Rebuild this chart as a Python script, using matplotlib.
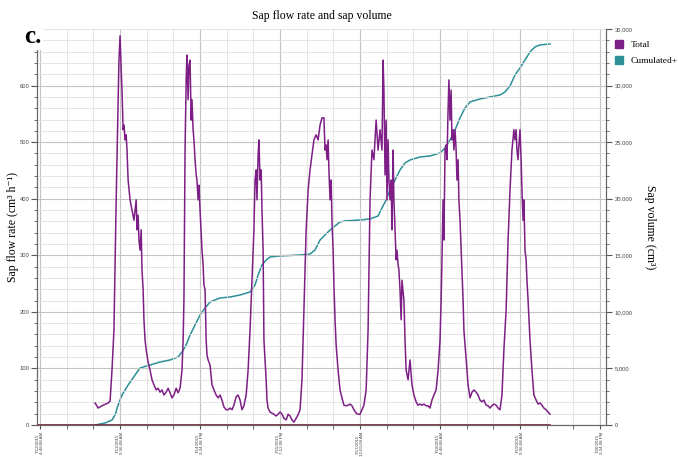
import matplotlib
matplotlib.use("Agg")
import matplotlib.pyplot as plt
from matplotlib.ticker import MultipleLocator, FuncFormatter
from matplotlib.lines import Line2D

# hours since the first logged sample
rate_hours = [0.0, 1.1, 2.9, 4.7, 5.4, 6.1, 6.8, 7.6, 8.3, 8.6, 9.0, 9.4, 9.7, 10.1, 10.4, 10.8,
              11.2, 11.5, 11.9, 12.6, 13.3, 14.0, 14.8, 15.1, 15.5, 15.8, 16.2, 16.6, 16.9, 17.3,
              17.6, 18.0, 18.4, 19.1, 19.8, 20.5, 21.2, 22.0, 22.7, 23.4, 24.1, 24.8, 25.6, 26.3,
              27.0, 27.7, 28.4, 29.2, 29.9, 30.6, 31.3, 31.7, 32.0, 32.4, 32.8, 33.1, 33.5, 33.8,
              34.2, 34.6, 34.9, 35.3, 35.6, 36.0, 36.4, 36.7, 37.1, 37.4, 37.8, 38.5, 38.9, 39.2,
              39.6, 40.0, 40.3, 40.7, 41.4, 42.1, 42.8, 43.6, 44.3, 45.0, 45.7, 46.4, 47.2, 47.9,
              48.6, 49.3, 50.0, 50.8, 51.5, 52.2, 52.9, 53.6, 54.4, 55.1, 55.8, 56.5, 57.2, 57.6,
              58.0, 58.3, 58.7, 59.0, 59.4, 59.8, 60.1, 60.5, 60.8, 61.6, 61.9, 62.3, 63.0, 63.7,
              64.4, 65.2, 65.9, 66.6, 67.3, 68.0, 68.8, 69.5, 70.2, 70.9, 71.6, 72.4, 73.1, 73.8,
              74.5, 75.2, 76.0, 76.7, 77.4, 78.1, 78.8, 79.6, 80.3, 81.0, 81.7, 82.4, 82.8, 83.2,
              83.5, 83.9, 84.2, 84.6, 85.0, 85.3, 85.7, 86.0, 86.4, 86.8, 87.5, 88.2, 88.9, 89.6,
              90.4, 91.1, 91.8, 92.5, 93.2, 94.0, 94.7, 95.4, 96.1, 96.8, 97.6, 98.3, 99.0, 99.7,
              100.4, 101.2, 101.9, 102.6, 103.3, 103.7, 104.0, 104.4, 104.8, 105.1, 105.5, 105.8,
              106.2, 106.6, 106.9, 107.3, 107.6, 108.0, 108.4, 108.7, 109.1, 109.4, 109.8, 110.2,
              110.5, 111.2, 111.6, 112.0, 112.7, 113.4, 114.1, 114.8, 115.6, 116.3, 117.0, 117.7,
              118.4, 119.2, 119.9, 120.6, 121.3, 122.0, 122.8, 123.5, 124.2, 124.6, 124.9, 125.3,
              125.6, 126.0, 126.4, 126.7, 127.1, 127.4, 127.8, 128.2, 128.5, 128.9, 129.2, 129.6,
              130.0, 130.3, 130.7, 131.0, 131.4, 131.8, 132.1, 132.5, 132.8, 133.6, 134.3, 135.0,
              135.7, 136.4, 137.2, 137.9, 138.6, 139.3, 140.0, 140.8, 141.5, 142.2, 142.9, 143.6,
              144.4, 145.1, 145.8, 146.5, 147.2, 148.0, 148.7, 149.4, 150.1, 150.8, 151.2, 151.6,
              151.9, 152.3, 152.6, 153.0, 153.4, 153.7, 154.1, 154.4, 154.8, 155.2, 155.5, 155.9,
              156.6, 157.3, 158.0, 158.8, 159.5, 160.2, 160.9, 161.6, 162.4, 163.1, 163.8]
# sap flow rate, cm3/h
rate = [39, 30, 35, 39, 42, 97, 168, 398, 575, 645, 688, 628, 592, 522, 530, 504,
        513, 486, 433, 398, 380, 362, 398, 345, 371, 327, 309, 345, 274, 239,
        186, 150, 133, 111, 97, 80, 71, 62, 65, 58, 62, 53, 58, 65,
        57, 48, 53, 65, 57, 65, 97, 150, 221, 486, 610, 654, 575, 636,
        645, 539, 575, 522, 504, 469, 442, 433, 398, 424, 380, 309, 283, 248,
        239, 150, 124, 115, 106, 71, 62, 53, 48, 53, 44, 32, 27, 27,
        30, 27, 35, 50, 53, 44, 27, 34, 53, 97, 168, 256, 345, 433,
        451, 398, 477, 504, 433, 451, 380, 309, 150, 80, 44, 30, 23, 21,
        19, 16, 19, 23, 19, 12, 9, 19, 16, 9, 5, 12, 18, 27,
        80, 203, 345, 415, 451, 477, 504, 513, 504, 530, 543, 543, 486, 495,
        469, 504, 451, 398, 433, 362, 309, 248, 186, 141, 97, 62, 48, 35,
        34, 35, 37, 34, 27, 21, 19, 19, 27, 35, 62, 168, 398, 486,
        469, 539, 486, 522, 486, 645, 592, 442, 539, 398, 504, 433,
        398, 433, 345, 486, 398, 345, 292, 309, 283, 274, 239, 186,
        256, 221, 150, 97, 80, 115, 71, 53, 41, 35, 37, 35,
        37, 34, 34, 30, 44, 53, 62, 97, 150, 221, 292, 398,
        327, 486, 495, 469, 557, 610, 539, 592, 504, 522, 486, 522,
        486, 433, 469, 398, 362, 309, 274, 221, 168, 115, 71, 48,
        58, 62, 58, 53, 44, 41, 44, 35, 34, 30, 34, 37,
        35, 30, 27, 53, 133, 203, 327, 415, 486, 522, 504, 522,
        486, 469, 495, 522, 469, 415, 362, 398, 309, 292, 256, 221,
        150, 97, 53, 44, 37, 39, 35, 30, 27, 23, 19]

vol_hours = [0.0, 3.6, 6.1, 7.2, 8.3, 9.7, 11.9, 14.4, 16.2, 19.8, 23.4, 27.0, 29.9, 31.3,
             32.8, 34.2, 36.0, 37.8, 39.6, 41.4, 43.2, 45.0, 48.6, 52.2, 55.8, 57.6, 58.7,
             60.1, 61.6, 63.0, 66.6, 73.8, 77.4, 79.2, 81.0, 82.8, 84.6, 86.4, 88.2, 90.0,
             95.4, 99.0, 101.9, 103.3, 104.8, 106.2, 108.0, 109.8, 111.6, 113.4, 117.0,
             120.6, 124.2, 126.0, 127.8, 129.6, 131.4, 133.2, 135.0, 138.6, 142.2, 145.8,
             147.6, 149.4, 151.2, 153.0, 154.8, 156.6, 158.4, 160.2, 163.8]
# cumulated sap volume, cm3
volume = [0, 177, 442, 884, 1768, 2652, 3536, 4420, 5039, 5304, 5569, 5746, 6011, 6453,
          7072, 7956, 8840, 9724, 10343, 10873, 11050, 11227, 11315, 11492, 11757, 12376, 13260,
          14144, 14586, 14851, 14940, 15028, 15116, 15470, 16354, 16796, 17238, 17592, 17945, 18034,
          18122, 18210, 18476, 19183, 19890, 20774, 21658, 22542, 23161, 23426, 23691,
          23780, 24045, 24487, 25194, 26078, 27139, 28023, 28553, 28818, 28995, 29172,
          29437, 29968, 30940, 31559, 32266, 32973, 33415, 33592, 33680]

zero_hours = [-20.9, 163.8]
zero_vals = [0, 0]

tick_hours = [-19.8, 9.0, 37.8, 66.6, 95.4, 124.2, 153.0, 181.8]
tick_labels = ["7/12/2015\n4:48:08 AM", "7/13/2015\n9:36:08 AM", "7/14/2015\n2:24:08 PM",
               "7/15/2015\n7:12:08 PM", "7/17/2015\n12:00:08 AM", "7/18/2015\n4:48:08 AM",
               "7/19/2015\n9:36:08 AM", "7/20/2015\n2:24:08 PM"]

purple = "#7d1f86"
teal = "#2b9097"
serif = ["Liberation Serif", "DejaVu Serif"]
small = ["Liberation Sans", "DejaVu Sans"]

fig = plt.figure(figsize=(6.78, 4.57), dpi=100)
ax = fig.add_axes([0.0546, 0.070, 0.8392, 0.8665])
ax2 = ax.twinx()

ax.set_xlim(-20.9, 183.96)
ax.set_ylim(0, 700)
ax2.set_ylim(0, 35000)

ax.xaxis.set_major_locator(plt.FixedLocator(tick_hours))
ax.xaxis.set_minor_locator(plt.FixedLocator(
    [h + k * 9.6 for h in tick_hours for k in (1, 2)]))
ax.set_xticklabels(tick_labels, rotation=90, fontsize=3.2, family=small, color="#444444",
                   linespacing=1.0)
ax.set_yticks([0, 100, 200, 300, 400, 500, 600])
ax.yaxis.set_minor_locator(MultipleLocator(20))
ax.tick_params(axis="y", which="major", labelsize=4.2, length=4, pad=1.5,
               color="#555555", labelcolor="#444444")
ax.tick_params(axis="y", which="minor", length=2.5, color="#555555")
ax.tick_params(axis="x", which="both", length=3, pad=2, color="#555555")
for lab in ax.get_yticklabels():
    lab.set_family(small)

ax2.yaxis.set_major_locator(MultipleLocator(5000))
ax2.yaxis.set_minor_locator(MultipleLocator(1000))
ax2.yaxis.set_major_formatter(FuncFormatter(lambda v, p: f"{int(v):,}"))
ax2.tick_params(axis="y", which="major", labelsize=4.2, length=4, pad=2,
                color="#555555", labelcolor="#444444")
ax2.tick_params(axis="y", which="minor", length=2.5, color="#555555")
for lab in ax2.get_yticklabels():
    lab.set_family(small)

ax.grid(True, which="major", color="#c4c4c4", linewidth=0.8)
ax.grid(True, which="minor", color="#e0e0e0", linewidth=0.6)
ax.set_axisbelow(True)

for a in (ax, ax2):
    a.spines["top"].set_visible(False)
    a.spines["left"].set_color("#666666")
    a.spines["right"].set_color("#666666")
    a.spines["bottom"].set_color("#666666")

ax.plot(zero_hours, zero_vals, color="#7a2230", lw=1.2, zorder=3)
ax2.plot(vol_hours, volume, color=teal, lw=1.1)
ax.plot(rate_hours, rate, color=purple, lw=1.1, zorder=4)
ax.set_zorder(ax2.get_zorder() + 1)
ax.patch.set_visible(False)

ax.set_ylabel("Sap flow rate (cm³ h⁻¹)", family=serif, fontsize=8.5, va="center")
ax.yaxis.set_label_coords(-0.043, 0.5)
ax2.set_ylabel("Sap volume (cm³)", family=serif, fontsize=8.5, rotation=270, va="center")
ax2.yaxis.set_label_coords(1.077, 0.5)
ax.set_title("Sap flow rate and sap volume", family=serif, fontsize=8.5, pad=7)

fig.text(0.036, 0.905, "c.", family=serif, fontsize=18, fontweight="bold",
         bbox=dict(facecolor="white", edgecolor="none", pad=1))

handles = [Line2D([], [], marker="s", linestyle="none", markersize=5.5, color=purple),
           Line2D([], [], marker="s", linestyle="none", markersize=5.5, color=teal)]
fig.legend(handles, ["Total", "Cumulated+"], loc="upper left", bbox_to_anchor=(0.893, 0.92),
           frameon=False, prop={"family": serif, "size": 6.8}, handletextpad=0.3,
           labelspacing=0.8, borderaxespad=0)

fig.savefig("out.png", dpi=100)
